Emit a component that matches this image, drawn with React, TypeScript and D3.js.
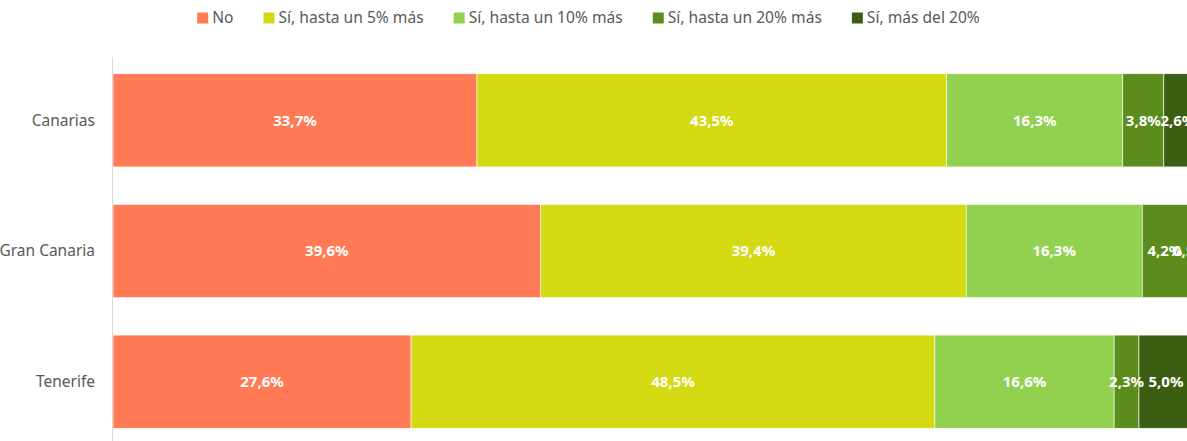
import React, { useEffect, useRef } from 'react';
import * as d3 from 'd3';

const categories = ['Canarias', 'Gran Canaria', 'Tenerife'];
const seriesNames = ['No', 'Sí, hasta un 5% más', 'Sí, hasta un 10% más', 'Sí, hasta un 20% más', 'Sí, más del 20%'];
const seriesColors = ['#ff7a55', '#d4d912', '#92d050', '#5b8c1c', '#3b5e12'];
const no = [33.7, 39.6, 27.6];
const upTo5 = [43.5, 39.4, 48.5];
const upTo10 = [16.3, 16.3, 16.6];
const upTo20 = [3.8, 4.2, 2.3];
const over20 = [2.6, 0.5, 5.0];

const W = 1187;
const H = 441;

export default function App() {
  const svgRef = useRef<SVGSVGElement>(null);

  useEffect(() => {
    document.body.style.margin = '0';
    if (!svgRef.current) return;
    const svg = d3.select(svgRef.current);
    svg.selectAll('*').remove();

    const rows = categories.map((c, i) => ({
      category: c,
      values: [no[i], upTo5[i], upTo10[i], upTo20[i], over20[i]],
    }));

    const x = d3.scaleLinear().domain([0, 100]).range([113, 1193]);
    const y = d3.scaleBand<string>()
      .domain(categories)
      .range([55, 447])
      .paddingInner(0.287)
      .paddingOuter(0.1435);

    const fmt = (v: number) => v.toFixed(1).replace('.', ',') + '%';

    // bars
    rows.forEach(row => {
      let acc = 0;
      const segs = row.values.map((v, k) => {
        const s = { k, start: acc, end: acc + v, v };
        acc += v;
        return s;
      });
      const g = svg.append('g');
      g.selectAll('rect')
        .data(segs)
        .enter().append('rect')
        .attr('x', d => x(d.start))
        .attr('y', y(row.category)!)
        .attr('width', d => x(d.end) - x(d.start))
        .attr('height', y.bandwidth())
        .attr('fill', d => seriesColors[d.k])
        .attr('stroke', '#ffffff')
        .attr('stroke-width', 0.6);
      g.selectAll('text')
        .data(segs)
        .enter().append('text')
        .attr('x', d => (x(d.start) + x(d.end)) / 2)
        .attr('y', y(row.category)! + y.bandwidth() / 2)
        .attr('dy', '0.35em')
        .attr('text-anchor', 'middle')
        .attr('fill', '#ffffff')
        .style('font-family', '"Noto Sans", sans-serif')
        .style('font-weight', 'bold')
        .style('font-size', '15px')
        .text(d => fmt(d.v));
    });

    // axis line
    svg.append('line')
      .attr('x1', 112.5).attr('x2', 112.5)
      .attr('y1', 57).attr('y2', H)
      .attr('stroke', '#d9d9d9')
      .attr('stroke-width', 1);

    // category labels
    svg.append('g')
      .selectAll('text')
      .data(categories)
      .enter().append('text')
      .attr('x', 95)
      .attr('y', d => y(d)! + y.bandwidth() / 2)
      .attr('dy', '0.35em')
      .attr('text-anchor', 'end')
      .attr('fill', '#595959')
      .style('font-family', '"Noto Sans", sans-serif')
      .style('font-size', '15.5px')
      .text(d => d);

    // legend
    const legend = svg.append('g');
    const items: { g: d3.Selection<SVGGElement, unknown, null, undefined>; w: number }[] = [];
    seriesNames.forEach((name, k) => {
      const ig = legend.append('g');
      ig.append('rect')
        .attr('x', 0).attr('y', 12.5)
        .attr('width', 11).attr('height', 11)
        .attr('fill', seriesColors[k]);
      const t = ig.append('text')
        .attr('x', 15).attr('y', 17.5)
        .attr('dy', '0.35em')
        .attr('fill', '#595959')
        .style('font-family', '"Noto Sans", sans-serif')
        .style('font-size', '15.6px')
        .text(name);
      const tw = (t.node() as SVGTextElement).getComputedTextLength();
      items.push({ g: ig, w: 15 + tw });
    });
    const gap = 30;
    const total = d3.sum(items, d => d.w) + gap * (items.length - 1);
    let lx = (199 + 978) / 2 - total / 2;
    items.forEach(it => {
      it.g.attr('transform', `translate(${lx},0)`);
      lx += it.w + gap;
    });
  }, []);

  return <svg ref={svgRef} width={W} height={H} style={{ display: 'block' }} />;
}
